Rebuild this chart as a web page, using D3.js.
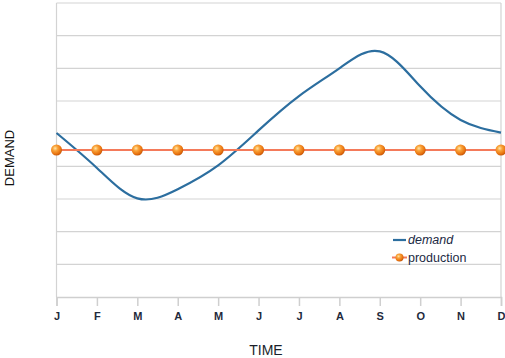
<!DOCTYPE html>
<html>
<head>
<meta charset="utf-8">
<script src="https://cdn.jsdelivr.net/npm/d3@7"></script>
<style>
  html, body { margin: 0; padding: 0; background: #fff; }
  svg { display: block; }
</style>
</head>
<body>
<svg id="chart" width="505" height="358"></svg>
<script>
// Monthly labels along the time axis
const months = ["J", "F", "M", "A", "M", "J", "J", "A", "S", "O", "N", "D"];
// Demand level for each month
const demand = [5.02, 3.95, 3.02, 3.3, 4.03, 5.1, 6.15, 7.0, 7.52, 6.45, 5.42, 5.03];
// Production held level across the year
const production = [4.5, 4.5, 4.5, 4.5, 4.5, 4.5, 4.5, 4.5, 4.5, 4.5, 4.5, 4.5];
// Horizontal grid levels
const gridLevels = [1, 2, 3, 4, 5, 6, 7, 8, 9];

const svg = d3.select("#chart");
const plotLeft = 56.5, plotRight = 501, plotTop = 3, plotBottom = 297;

const x = d3.scalePoint().domain(d3.range(months.length)).range([plotLeft, plotRight]);
const y = d3.scaleLinear().domain([0, 9]).range([plotBottom, plotTop]);

// Sphere shading for production markers
const defs = svg.append("defs");
const grad = defs.append("radialGradient")
  .attr("id", "ball").attr("cx", "38%").attr("cy", "35%").attr("r", "65%");
grad.append("stop").attr("offset", "0%").attr("stop-color", "#ffe6a8");
grad.append("stop").attr("offset", "35%").attr("stop-color", "#f9a33a");
grad.append("stop").attr("offset", "80%").attr("stop-color", "#e8730f");
grad.append("stop").attr("offset", "100%").attr("stop-color", "#c85a0a");

// Grid lines
svg.append("g").selectAll("line").data(gridLevels).join("line")
  .attr("x1", plotLeft).attr("x2", plotRight)
  .attr("y1", d => y(d)).attr("y2", d => y(d))
  .attr("stroke", "#d3d3d3").attr("stroke-width", 1.2);

// Left and right frame
svg.append("line").attr("x1", plotLeft).attr("x2", plotLeft).attr("y1", plotTop).attr("y2", plotBottom)
  .attr("stroke", "#d3d3d3").attr("stroke-width", 1.2);
svg.append("line").attr("x1", plotRight).attr("x2", plotRight).attr("y1", plotTop).attr("y2", plotBottom)
  .attr("stroke", "#d3d3d3").attr("stroke-width", 1.2);

// Time axis
const xAxis = d3.axisBottom(x).tickSize(9).tickPadding(6).tickFormat(i => months[i]);
const gx = svg.append("g").attr("transform", `translate(0,${plotBottom})`).call(xAxis);
gx.select(".domain").attr("stroke", "#cfcfcf").attr("stroke-width", 1.5);
gx.selectAll(".tick line").attr("stroke", "#cfcfcf").attr("stroke-width", 1.5);
gx.selectAll(".tick text")
  .attr("fill", "#1f2a3c")
  .style("font-family", "Liberation Sans, Arial, sans-serif")
  .style("font-size", "11px")
  .style("font-weight", "bold");

// Demand curve
const demandLine = d3.line()
  .x((d, i) => x(i)).y(d => y(d))
  .curve(d3.curveNatural);
svg.append("path").datum(demand)
  .attr("d", demandLine)
  .attr("fill", "none").attr("stroke", "#2c6e9f").attr("stroke-width", 2.2);

// Production line with markers
const prodLine = d3.line().x((d, i) => x(i)).y(d => y(d));
svg.append("path").datum(production)
  .attr("d", prodLine)
  .attr("fill", "none").attr("stroke", "#f47a5a").attr("stroke-width", 2.2);
svg.append("g").selectAll("circle").data(production).join("circle")
  .attr("cx", (d, i) => x(i)).attr("cy", d => y(d)).attr("r", 5.5)
  .attr("fill", "url(#ball)");

// Legend
const lg = svg.append("g").style("font-family", "Liberation Sans, Arial, sans-serif")
  .style("font-size", "12.5px").attr("fill", "#1c2a44");
lg.append("line").attr("x1", 393).attr("x2", 406).attr("y1", 240).attr("y2", 240)
  .attr("stroke", "#2c6e9f").attr("stroke-width", 2.2);
lg.append("text").attr("x", 408).attr("y", 244).style("font-style", "italic").text("demand");
lg.append("line").attr("x1", 392).attr("x2", 407).attr("y1", 257.5).attr("y2", 257.5)
  .attr("stroke", "#f47a5a").attr("stroke-width", 2);
lg.append("circle").attr("cx", 399.5).attr("cy", 257.5).attr("r", 4).attr("fill", "url(#ball)");
lg.append("text").attr("x", 408).attr("y", 262).text("production");

// Axis titles
svg.append("text").attr("x", 266).attr("y", 355).attr("text-anchor", "middle")
  .style("font-family", "Liberation Sans, Arial, sans-serif").style("font-size", "14px")
  .attr("fill", "#1a1f2a").text("TIME");
svg.append("text").attr("transform", "translate(14,158) rotate(-90)").attr("text-anchor", "middle")
  .style("font-family", "Liberation Sans, Arial, sans-serif").style("font-size", "13px")
  .attr("fill", "#111").text("DEMAND");
</script>
</body>
</html>
